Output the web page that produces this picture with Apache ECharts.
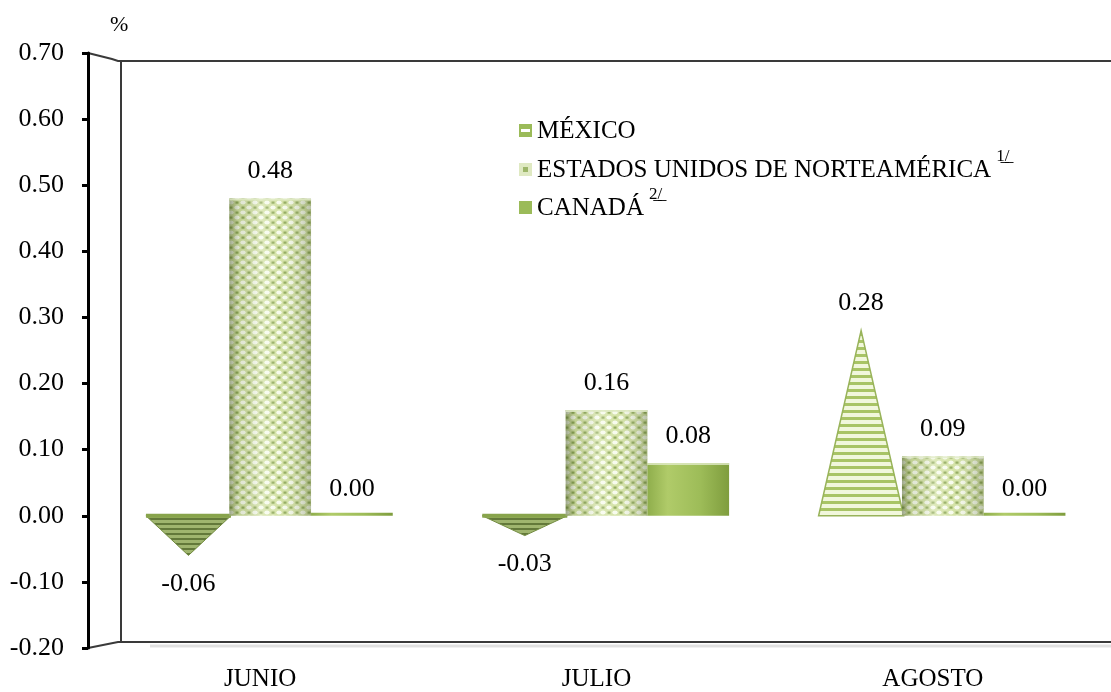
<!DOCTYPE html>
<html>
<head>
<meta charset="utf-8">
<script src="https://cdn.jsdelivr.net/npm/echarts@6/dist/echarts.min.js"></script>
<style>
  html, body { margin: 0; padding: 0; background: #ffffff; }
  #chart { width: 1111px; height: 692px; }
</style>
</head>
<body>
<div id="chart"></div>
<script>
// Monthly variation by country (%)
const categories = ['JUNIO', 'JULIO', 'AGOSTO'];
const seriesNames = ['MÉXICO', 'ESTADOS UNIDOS DE NORTEAMÉRICA', 'CANADÁ'];
const footnotes = ['', '1/', '2/'];
const mexico = [-0.06, -0.03, 0.28];
const usa = [0.48, 0.16, 0.09];
const canada = [0.00, 0.08, 0.00];
const yMin = -0.2, yMax = 0.7, yStep = 0.1;

const FONT = '"Liberation Serif", "Times New Roman", serif';
const SLOT = 0.243;           // width of one bar as a share of the category band

function tile(w, h, draw) {
  const c = document.createElement('canvas');
  c.width = w; c.height = h;
  draw(c.getContext('2d'));
  return c;
}

// Horizontal stripes for the cones
const stripeUp = tile(8, 7, g => {
  g.fillStyle = '#f1f7dc'; g.fillRect(0, 0, 8, 7);
  g.fillStyle = '#a8c465'; g.fillRect(0, 4, 8, 3);
});
const stripeDown = tile(8, 5, g => {
  g.fillStyle = '#9fb56e'; g.fillRect(0, 0, 8, 5);
  g.fillStyle = '#63793a'; g.fillRect(0, 3, 8, 2);
});
// Lattice texture for the US cylinders
const lattice = tile(12, 10, g => {
  g.fillStyle = '#d2e1a3'; g.fillRect(0, 0, 12, 10);
  g.fillStyle = '#f7fbec';
  g.beginPath(); g.ellipse(3, 2.5, 2.7, 2.0, 0, 0, Math.PI * 2); g.fill();
  g.beginPath(); g.ellipse(9, 7.5, 2.7, 2.0, 0, 0, Math.PI * 2); g.fill();
  g.fillStyle = '#8ea858';
  g.fillRect(7.5, 1.5, 3, 2.2); g.fillRect(1.5, 6.5, 3, 2.2);
});

// Legend swatches
function swatch(draw) { return 'image://' + tile(13, 13, draw).toDataURL(); }
const icons = [
  swatch(g => { g.fillStyle = '#9bbb59'; g.fillRect(0, 0, 13, 13); g.fillStyle = '#ffffff'; g.fillRect(2, 5, 9, 3); }),
  swatch(g => { g.fillStyle = '#dfe9c2'; g.fillRect(0, 0, 13, 13); g.fillStyle = '#9db66a'; g.fillRect(4, 4, 5, 5); }),
  swatch(g => { g.fillStyle = '#9bbb59'; g.fillRect(0, 0, 13, 13); })
];

const cylShade = {
  type: 'linear', x: 0, y: 0, x2: 1, y2: 0,
  colorStops: [
    { offset: 0, color: 'rgba(70,85,40,0.50)' },
    { offset: 0.12, color: 'rgba(70,85,40,0.12)' },
    { offset: 0.38, color: 'rgba(255,255,255,0.28)' },
    { offset: 0.62, color: 'rgba(255,255,255,0.05)' },
    { offset: 1, color: 'rgba(70,85,40,0.35)' }
  ]
};
const canadaFill = {
  type: 'linear', x: 0, y: 0, x2: 1, y2: 0,
  colorStops: [
    { offset: 0, color: '#8fae4c' },
    { offset: 0.25, color: '#b0cb69' },
    { offset: 0.65, color: '#9dbc58' },
    { offset: 1, color: '#7f9d3e' }
  ]
};

function valueLabel(x, y, v) {
  const up = v >= 0;
  return {
    type: 'text',
    style: {
      text: v.toFixed(2), x: x, y: up ? y - 14 : y + 16,
      align: 'center', verticalAlign: up ? 'bottom' : 'top',
      fontFamily: FONT, fontSize: 26, fill: '#000000'
    }
  };
}

function geometry(api, slot) {
  const i = api.value(0), v = api.value(1);
  const band = api.size([1, 0])[0];
  const w = band * SLOT;
  const base = api.coord([i, 0]);
  const tip = api.coord([i, v]);
  return { v, w, cx: base[0] + (slot - 1) * w, y0: base[1], y1: tip[1] };
}

function renderCone(params, api) {
  const g = geometry(api, 0);
  const half = g.w * 0.52;
  const pts = [[g.cx - half, g.y0], [g.cx + half, g.y0], [g.cx, g.y1]];
  const children = [];
  if (g.v >= 0) {
    children.push({ type: 'polygon', shape: { points: pts },
      style: { fill: { image: stripeUp, repeat: 'repeat' }, stroke: '#98b35a', lineWidth: 1.5 } });
  } else {
    children.push({ type: 'polygon', shape: { points: pts },
      style: { fill: { image: stripeDown, repeat: 'repeat' }, stroke: '#728b40', lineWidth: 1 } });
    children.push({ type: 'rect', shape: { x: g.cx - half, y: g.y0 - 2, width: half * 2, height: 4 },
      style: { fill: '#88a44c' } });
  }
  children.push(valueLabel(g.cx, g.y1, g.v));
  return { type: 'group', children };
}

function renderCylinder(kind) {
  return function (params, api) {
    const g = geometry(api, kind === 'usa' ? 1 : 2);
    const top = Math.min(g.y1, g.y0 - 3);
    const h = Math.max(g.y0 - top, 3);
    const x = g.cx - g.w / 2;
    const children = [];
    if (kind === 'usa') {
      children.push({ type: 'rect', shape: { x, y: top, width: g.w, height: h },
        style: { fill: { image: lattice, repeat: 'repeat' } } });
      children.push({ type: 'rect', shape: { x, y: top, width: g.w, height: h },
        style: { fill: cylShade } });
    } else {
      children.push({ type: 'rect', shape: { x, y: top, width: g.w, height: h },
        style: { fill: canadaFill } });
    }
    if (h > 6) {
      children.push({ type: 'rect', shape: { x, y: top, width: g.w, height: 2 },
        style: { fill: 'rgba(225,235,200,0.8)' } });
    }
    children.push(valueLabel(g.cx, g.y1, g.v));
    return { type: 'group', children };
  };
}

const toData = arr => arr.map((v, i) => [i, v]);

const chart = echarts.init(document.getElementById('chart'), null, { renderer: 'canvas' });

const option = {
  backgroundColor: '#ffffff',
  animation: false,
  grid: { left: 102, top: 53, width: 1020, bottom: 44, containLabel: false },
  xAxis: {
    type: 'category',
    data: categories,
    axisLine: { show: false },
    axisTick: { show: false },
    axisLabel: {
      fontFamily: FONT, fontSize: 25, color: '#000000', margin: 19,
      padding: [0, 20, 0, 0]
    }
  },
  yAxis: {
    type: 'value',
    min: yMin, max: yMax, interval: yStep,
    offset: 14,
    name: '%',
    nameLocation: 'end',
    nameGap: 17,
    nameTextStyle: { fontFamily: FONT, fontSize: 22, color: '#000000', align: 'left', padding: [0, 0, 0, 22] },
    axisLine: { show: true, lineStyle: { color: '#000000', width: 3 } },
    axisTick: { show: true, length: 6, lineStyle: { color: '#000000', width: 3 } },
    axisLabel: {
      fontFamily: FONT, fontSize: 26, color: '#000000', margin: 24,
      formatter: v => v.toFixed(2)
    },
    splitLine: { show: false }
  },
  legend: seriesNames.map((name, k) => ({
    data: [{ name: name, icon: icons[k] }],
    orient: 'vertical',
    left: 519,
    top: [119, 148, 186][k],
    padding: 0,
    itemWidth: 13, itemHeight: 13, itemGap: 4,
    selectedMode: false,
    textStyle: {
      fontFamily: FONT, fontSize: 25, color: '#000000',
      rich: {
        t: { fontFamily: FONT, fontSize: 25, color: '#000000', lineHeight: 27, verticalAlign: 'bottom' },
        s: { fontFamily: FONT, fontSize: 17, color: '#000000', lineHeight: 17, verticalAlign: 'bottom', padding: [0, 0, 18, 5] }
      }
    },
    formatter: n => {
      const idx = seriesNames.indexOf(n);
      const note = footnotes[idx];
      if (!note) return '{t|' + n + '}';
      const underlined = note.split('').map(c => c + '\u0332').join('');
      return '{t|' + n + '}{s|' + underlined + '}';
    }
  })),
  graphic: [
    // back wall and floor of the plot box
    { type: 'polyline', silent: true, z: 0,
      shape: { points: [[88, 53], [96, 55], [104, 57], [112, 59], [118, 61], [1111, 61]] },
      style: { stroke: '#3a3a3a', lineWidth: 2, fill: null } },
    { type: 'line', silent: true, z: 0,
      shape: { x1: 121, y1: 61, x2: 121, y2: 642 },
      style: { stroke: '#3a3a3a', lineWidth: 2 } },
    { type: 'polyline', silent: true, z: 0,
      shape: { points: [[88, 648], [98, 646], [108, 644], [118, 642], [1111, 642]] },
      style: { stroke: '#3a3a3a', lineWidth: 2, fill: null } },
    { type: 'line', silent: true, z: 0,
      shape: { x1: 150, y1: 646, x2: 1111, y2: 646 },
      style: { stroke: 'rgba(0,0,0,0.12)', lineWidth: 3 } }
  ],
  series: [
    { name: seriesNames[0], type: 'custom', renderItem: renderCone, data: toData(mexico), z: 3 },
    { name: seriesNames[1], type: 'custom', renderItem: renderCylinder('usa'), data: toData(usa), z: 3 },
    { name: seriesNames[2], type: 'custom', renderItem: renderCylinder('can'), data: toData(canada), z: 3 }
  ]
};

chart.setOption(option);
</script>
</body>
</html>
